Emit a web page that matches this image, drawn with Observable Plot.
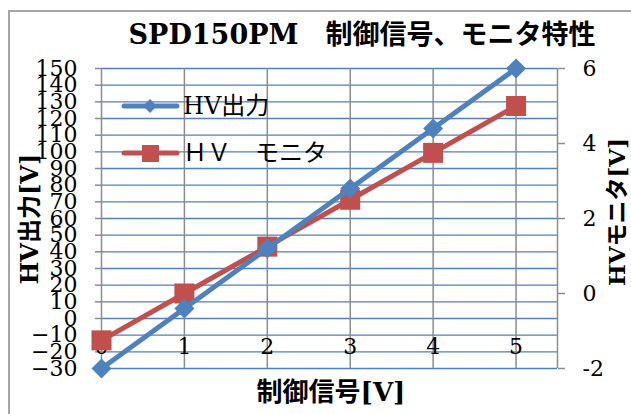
<!DOCTYPE html>
<html><head><meta charset="utf-8">
<script src="https://cdn.jsdelivr.net/npm/d3@7"></script>
<script src="https://cdn.jsdelivr.net/npm/@observablehq/plot@0.6"></script>
<style>
body{margin:0;background:#fff;}
#wrap{position:relative;width:631px;height:414px;overflow:hidden;font-family:"DejaVu Serif","Noto Sans CJK JP",serif;background:#fff;}
#border{position:absolute;left:8px;top:10px;width:700px;height:500px;border:2px solid #a6a6a6;}
.t{position:absolute;white-space:nowrap;color:#000;line-height:1;font-family:"DejaVu Serif","Noto Sans CJK JP",serif;}
#chart{position:absolute;left:0;top:0;}
</style></head><body>
<div id="wrap"><div id="border"></div><div id="chart"></div></div>
<script>
const controlV = [0, 1, 2, 3, 4, 5];
const hvOutput = [-30, 6, 42, 78, 114, 150];
const hvMonitor = [-1.25, 0, 1.25, 2.5, 3.75, 5];
const leftTicks = [-30, -20, -10, 0, 10, 20, 30, 40, 50, 60, 70, 80, 90, 100, 110, 120, 130, 140, 150];
const rightTicks = [-2, 0, 2, 4, 6];
const xTickLabels = ["0", "1", "2", "3", "4", "5"];
const titleText = "SPD150PM\u3000制御信号、モニタ特性";
const xLabel = "制御信号[V]";
const yLeftLabel = "HV出力[V]";
const yRightLabel = "HVモニタ[V]";
const seriesNames = ["HV出力", "ＨＶ\u3000モニタ"];

const BLUE = "#4F81BD", RED = "#C0504D", GRAY = "#8c8c8c";
const FONT = '"DejaVu Serif","Noto Sans CJK JP",serif';

// right axis (-2..6) mapped onto left axis (-30..150)
const toLeft = v => -30 + (v + 2) * 22.5;

const rows = controlV.map((x, i) => ({x, out: hvOutput[i], mon: toLeft(hvMonitor[i])}));

const diamond = {
  draw(ctx, size) {
    const s = Math.sqrt(size / 2);
    ctx.moveTo(0, -s); ctx.lineTo(s, 0); ctx.lineTo(0, s); ctx.lineTo(-s, 0); ctx.closePath();
  }
};

const chart = Plot.plot({
  width: 631, height: 414,
  marginTop: 68, marginRight: 74, marginBottom: 46, marginLeft: 101,
  style: {background: "transparent", fontFamily: FONT},
  x: {domain: [0, 5.5], axis: null},
  y: {domain: [-30, 150], axis: null},
  marks: [
    Plot.ruleY(leftTicks, {stroke: BLUE, strokeWidth: 1.4}),
    Plot.ruleX([...controlV, 5.5], {stroke: GRAY, strokeWidth: 1.5}),
    Plot.axisY(leftTicks, {anchor: "left", tickSize: 6, tickPadding: 18, fontSize: 22, fontFamily: FONT, stroke: GRAY, fill: "black", strokeWidth: 1.5}),
    Plot.axisY(rightTicks.map(toLeft), {anchor: "right", tickSize: 7, tickPadding: 18, fontSize: 22, fontFamily: FONT, stroke: GRAY, fill: "black", strokeWidth: 1.5,
      tickFormat: v => String(rightTicks[rightTicks.map(toLeft).indexOf(v)])}),
    Plot.text(controlV, {x: d => d, text: (d, i) => xTickLabels[i], frameAnchor: "bottom", dy: -15, fontSize: 22, fontFamily: FONT, fill: "black"}),
    Plot.line(rows, {x: "x", y: "mon", stroke: RED, strokeWidth: 5}),
    Plot.dot(rows, {x: "x", y: "mon", symbol: "square", r: 11.3, fill: RED, stroke: null}),
    Plot.line(rows, {x: "x", y: "out", stroke: BLUE, strokeWidth: 5}),
    Plot.dot(rows, {x: "x", y: "out", symbol: diamond, r: 8, fill: BLUE, stroke: null})
  ]
});
document.getElementById("chart").appendChild(chart);

const wrap = document.getElementById("wrap");
function addText(txt, css) {
  const d = document.createElement("div");
  d.className = "t";
  d.textContent = txt;
  Object.assign(d.style, css);
  wrap.appendChild(d);
  return d;
}
addText(titleText, {left: "362px", top: "34px", transform: "translate(-50%,-50%)", fontSize: "27px", fontWeight: "bold"});
addText(xLabel, {left: "331px", top: "392px", transform: "translate(-50%,-50%)", fontSize: "26px", fontWeight: "bold"});
addText(yLeftLabel, {left: "30px", top: "219px", transform: "translate(-50%,-50%) rotate(-90deg)", fontSize: "24px", fontWeight: "bold"});
addText(yRightLabel, {left: "616px", top: "212px", transform: "translate(-50%,-50%) rotate(-90deg)", fontSize: "23px", fontWeight: "bold"});

// legend
const ns = "http://www.w3.org/2000/svg";
const leg = document.createElementNS(ns, "svg");
leg.setAttribute("width", 631); leg.setAttribute("height", 414);
leg.style.position = "absolute"; leg.style.left = "0"; leg.style.top = "0";
leg.innerHTML = `
  <line x1="124" x2="177" y1="106" y2="106" stroke="${BLUE}" stroke-width="5" stroke-linecap="round"/>
  <path d="M150,99 L157,106 L150,113 L143,106 Z" fill="${BLUE}"/>
  <line x1="124" x2="177" y1="153" y2="153" stroke="${RED}" stroke-width="5" stroke-linecap="round"/>
  <rect x="142" y="145" width="17" height="17" fill="${RED}"/>`;
wrap.appendChild(leg);
addText(seriesNames[0], {left: "183px", top: "106px", transform: "translateY(-50%)", fontSize: "24px"});
addText(seriesNames[1], {left: "183px", top: "153px", transform: "translateY(-50%)", fontSize: "24px"});
</script>
</body></html>
